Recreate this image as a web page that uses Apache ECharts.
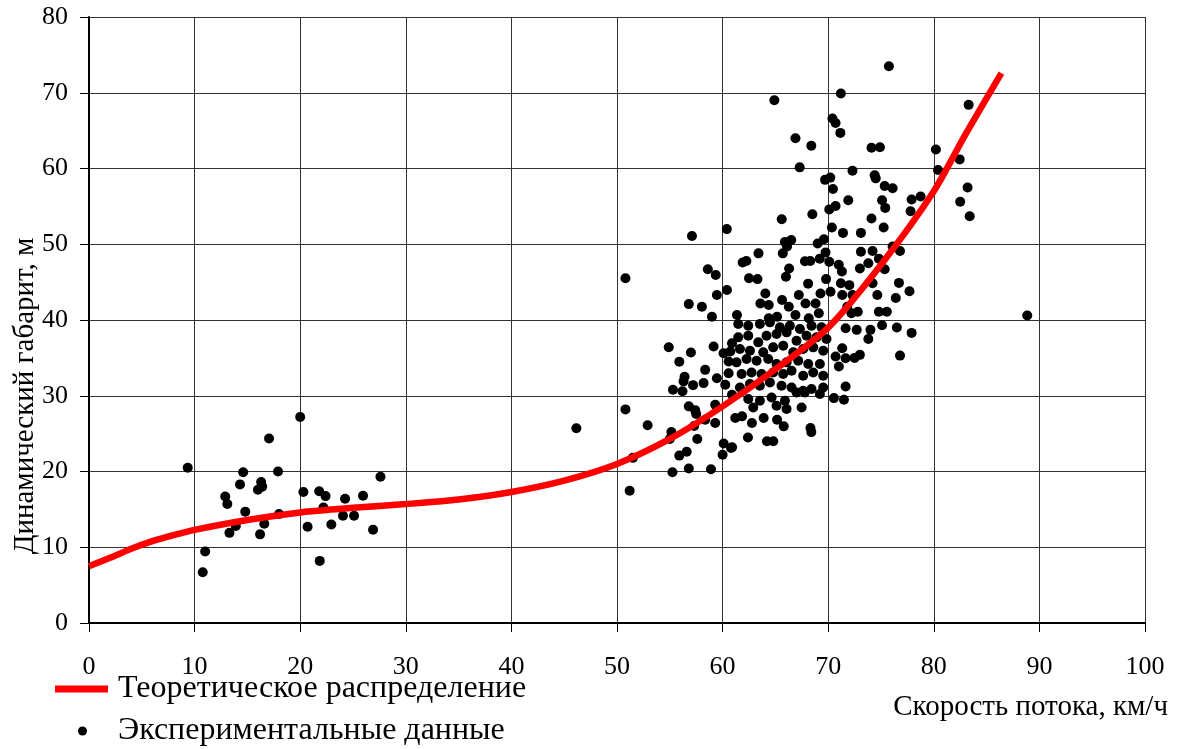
<!DOCTYPE html>
<html>
<head>
<meta charset="utf-8">
<script src="https://cdn.jsdelivr.net/npm/echarts@6/dist/echarts.min.js"></script>
<style>
html,body{margin:0;padding:0;background:#fff;}
#chart{width:1177px;height:749px;}
</style>
</head>
<body>
<div id="chart"></div>
<script>
const xTicks = [0, 10, 20, 30, 40, 50, 60, 70, 80, 90, 100];
const yTicks = [0, 10, 20, 30, 40, 50, 60, 70, 80];

const xAxisTitle = 'Скорость потока, км/ч';
const yAxisTitle = 'Динамический габарит, м';
const lineName = 'Теоретическое распределение';
const scatterName = 'Экспериментальные данные';

// Theoretical curve
const curveSpeed =   [0,   2,   4,    6,    8,    10,   15,   20,   25,   30,   35,   40,   45,   50,   55,   60,   65,   70,   75,   80,   83,   86.4];
const curveGabarit = [7.5, 8.6, 9.8,  10.8, 11.6, 12.3, 13.6, 14.6, 15.2, 15.7, 16.3, 17.3, 18.8, 21.0, 24.3, 28.6, 33.5, 39.0, 47.3, 57.0, 64.5, 72.6];

// Experimental points: [speed, gabarit]
const lowSpeedPoints = [
  [9.35,20.5],[10.77,6.7],[11.0,9.45],[12.9,16.7],[13.1,15.7],[13.3,11.9],[13.9,12.8],[14.3,18.3],
  [14.6,19.9],[14.8,14.7],[16.2,11.7],[16.0,17.6],[16.3,18.6],[16.4,18.0],[16.6,13.1],[17.05,24.35],
  [17.9,20.0],[18.0,14.4],[20.0,27.2],[20.3,17.3],[20.7,12.7],[21.8,17.4],[22.2,15.25],[22.4,16.75],
  [21.85,8.2],[22.95,13.0],[24.05,14.15],[24.25,16.4],[25.1,14.15],[25.95,16.8],[26.9,12.3],[27.6,19.3]
];
const upperPoints = [
  [64.9,69.0],[66.9,64.0],[67.3,60.15],[65.6,53.3],[60.4,52.0],[57.1,51.1],[65.9,50.3],[66.5,50.55],
  [66.1,49.7],[65.7,48.8],[63.4,48.8],[62.25,47.8],[61.9,47.6],[58.6,46.7],[66.3,46.8],
  [75.75,73.5],[71.2,69.9],[83.3,68.4],[70.4,66.6],[70.7,66.0],[71.15,64.7],[68.4,63.0],[74.1,62.75],
  [74.9,62.8],[80.2,62.5],[82.45,61.2],[80.4,59.8],[72.3,59.7],[74.4,59.1],[74.5,58.7],[69.7,58.5],
  [70.2,58.8],[70.45,57.3],[75.35,57.7],[76.1,57.4],[83.2,57.5],[71.9,55.8],[75.1,55.8],[75.4,54.8],
  [77.9,55.9],[78.75,56.3],[82.5,55.6],[70.1,54.6],[70.7,55.05],[77.8,54.35],[83.4,53.7],[68.5,53.95],
  [74.1,53.4],[75.25,52.2],[70.35,52.2],[71.4,51.5],[73.1,51.5],[69.0,50.1],[69.6,50.65],[76.1,49.7],
  [76.8,49.1],[69.75,48.9],[73.1,49.0],[74.2,49.1],[74.8,48.1],[69.2,48.1],[67.8,47.75],[68.3,47.8],
  [70.1,47.7],[71.0,47.3],[73.0,46.8],[73.8,47.5],[75.35,46.7]
];
const middleLeftPoints = [
  [50.8,45.5],[59.35,45.95],[66.0,45.7],[62.5,45.5],[63.3,45.4],[56.8,42.1],[54.9,36.4],[57.0,35.7],
  [55.9,34.5],[56.4,32.5],[56.3,31.9],[55.3,30.8],[56.2,30.6],[57.2,31.4],[56.8,28.6],[57.5,27.6],
  [57.4,28.1],[62.4,24.5],[64.2,24.0],[64.8,24.0],[57.3,26.0],[55.15,25.2],[55.0,24.3],[57.6,24.3],
  [60.1,23.7],[60.8,23.1],[60.0,22.2],[60.9,23.2],[55.9,22.1],[56.6,22.6],[56.8,20.4],[55.25,19.9],
  [58.9,20.3],[51.5,21.8],[52.9,26.1],[50.8,28.2],[46.15,25.7],[51.2,17.45]
];
const middleRightPoints = [
  [68.1,44.8],[71.2,44.85],[72.0,44.6],[72.3,43.3],[69.8,45.4],[74.2,44.85],[76.7,44.9],[77.7,43.8],
  [74.65,43.3],[76.4,42.9],[72.2,40.9],[72.8,41.1],[74.8,41.1],[75.55,41.1],[72.7,38.7],[74.0,38.7],
  [73.8,37.5],[75.1,39.3],[76.5,39.0],[77.9,38.3],[72.5,35.0],[73.0,35.4],[76.8,35.3],[68.4,25.2],
  [71.3,46.4],[88.85,40.6]
];
const coreRimPoints = [
  [59.46,43.29],[60.41,43.95],[64.05,43.51],[63.58,42.19],[64.37,41.97],[65.63,42.63],[66.27,41.75],[67.22,43.29],
  [67.85,42.19],[68.8,42.19],[69.27,43.51],[70.22,43.73],[71.33,43.29],[58.04,41.75],[71.8,41.75],
  [58.99,40.44],[61.36,40.66],[64.37,40.22],[65.16,40.44],[66.9,40.66],[68.16,40.22],[69.11,40.88],[71.65,38.9],
  [60.89,36.93],[59.15,36.49],[71.33,36.27],
  [60.09,35.61],[60.73,35.83],[70.7,35.18],[71.65,34.96],[58.35,33.42],[60.57,34.52],[71.01,33.86],
  [59.46,32.32],[60.57,32.98],[58.2,31.67],[60.25,31.45],[71.65,31.23],
  [60.89,30.13],[70.54,29.69],[71.49,29.47],[59.3,28.82],
  [58.35,26.84],[59.3,26.4],[61.2,27.06],[61.84,27.28],[62.78,26.4],[63.89,27.06],[65.16,26.84],[65.79,25.96],
  [68.32,25.75]
];
const denseCorePoints = [
  [61.48,39.47],[62.43,39.25],[63.53,39.47],[64.48,39.69],[65.43,39.03],[66.37,39.25],[67.32,38.81],[68.42,39.25],
  [69.37,39.03],[61.48,37.71],[62.43,37.93],[63.38,37.05],[64.16,37.93],[65.11,38.15],[66.06,38.37],[67.0,37.27],
  [67.95,37.93],[68.9,37.71],[69.84,37.49],[61.64,36.17],[62.59,35.95],[63.85,35.73],[64.79,36.39],[65.74,36.61],
  [66.69,35.73],[67.63,36.17],[68.58,36.39],[69.53,35.95],[61.32,34.41],[62.27,34.85],[63.22,34.63],[64.32,34.85],
  [65.11,34.19],[66.06,34.41],[67.16,34.63],[68.11,34.19],[69.21,34.19],[61.8,32.86],[62.74,33.08],[63.69,32.86],
  [64.79,33.08],[65.74,32.86],[66.53,33.3],[67.63,32.64],[68.58,33.08],[69.53,32.64],[61.64,31.1],[62.59,31.54],
  [63.53,31.32],[64.48,31.76],[65.58,31.32],[66.53,31.1],[67.63,30.66],[68.42,30.88],[69.53,31.1],[62.43,29.56],
  [63.53,29.34],[64.64,29.78],[65.9,29.34],[67.0,30.44],[67.79,30.44],[69.21,30.22],[62.9,28.46],[65.11,28.68],
  [66.06,28.24],[67.48,28.46]
];

const experimentalPoints = lowSpeedPoints.concat(upperPoints, middleLeftPoints, middleRightPoints, coreRimPoints, denseCorePoints);
const curveData = curveSpeed.map((s, i) => [s, curveGabarit[i]]);

const FONT = '"Liberation Serif", "Times New Roman", serif';
const chart = echarts.init(document.getElementById('chart'), null, {renderer: 'canvas'});

chart.setOption({
  animation: false,
  backgroundColor: '#fff',
  grid: {left: 89, right: 32, top: 17, bottom: 126, containLabel: false},
  xAxis: {
    type: 'value',
    min: xTicks[0], max: xTicks[xTicks.length - 1], interval: 10,
    axisLine: {show: true, onZero: false, lineStyle: {color: '#000', width: 2}},
    axisTick: {show: true, inside: false, length: 9, lineStyle: {color: '#000', width: 1}},
    axisLabel: {margin: 31, fontSize: 26, fontFamily: FONT, color: '#000'},
    splitLine: {show: true, lineStyle: {color: '#333', width: 1}}
  },
  yAxis: {
    type: 'value',
    min: yTicks[0], max: yTicks[yTicks.length - 1], interval: 10,
    axisLine: {show: true, onZero: false, lineStyle: {color: '#000', width: 2}},
    axisTick: {show: true, inside: false, length: 9, lineStyle: {color: '#000', width: 1}},
    axisLabel: {margin: 21, fontSize: 26, fontFamily: FONT, color: '#000'},
    splitLine: {show: true, lineStyle: {color: '#333', width: 1}}
  },
  legend: [
    {
      data: [lineName], left: 55, top: 673, padding: 0,
      itemWidth: 53, itemHeight: 7, icon: 'rect',
      textStyle: {fontSize: 32, fontFamily: FONT, color: '#000', padding: [0, 0, 0, 5]}
    },
    {
      data: [scatterName], left: 78, top: 715, padding: 0,
      itemWidth: 9, itemHeight: 9, icon: 'circle',
      textStyle: {fontSize: 32, fontFamily: FONT, color: '#000', padding: [0, 0, 0, 26]}
    }
  ],
  graphic: [
    {
      type: 'text', x: 25, y: 396, rotation: Math.PI / 2,
      style: {text: yAxisTitle, fontSize: 29, fontFamily: FONT, fill: '#000', align: 'center', verticalAlign: 'middle'}
    },
    {
      type: 'text', x: 1168, y: 707,
      style: {text: xAxisTitle, fontSize: 29, fontFamily: FONT, fill: '#000', align: 'right', verticalAlign: 'middle'}
    }
  ],
  series: [
    {
      name: lineName, type: 'line', data: curveData, smooth: 0.25,
      showSymbol: false, symbol: 'none',
      lineStyle: {color: '#ff0000', width: 6.5},
      itemStyle: {color: '#ff0000'}
    },
    {
      name: scatterName, type: 'scatter', data: experimentalPoints,
      symbol: 'circle', symbolSize: 10,
      itemStyle: {color: '#000', opacity: 1}
    }
  ]
});
</script>
</body>
</html>
